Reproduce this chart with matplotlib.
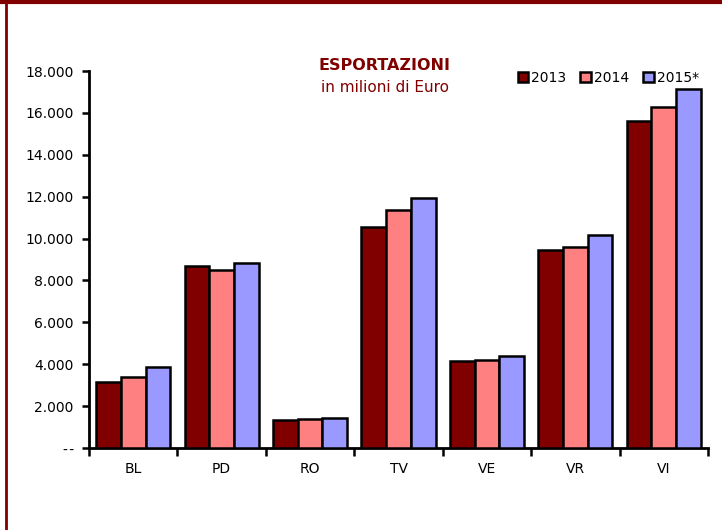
import numpy as np
import matplotlib
matplotlib.use("Agg")
import matplotlib.pyplot as plt
from matplotlib.lines import Line2D

province = ["BL", "PD", "RO", "TV", "VE", "VR", "VI"]
anni = ["2013", "2014", "2015*"]
v2013 = [3140, 8670, 1330, 10570, 4140, 9430, 15620]
v2014 = [3380, 8520, 1380, 11380, 4190, 9620, 16290]
v2015 = [3860, 8810, 1430, 11950, 4380, 10190, 17140]
colori = ["#800000", "#ff8080", "#9999ff"]
yticks = [0, 2000, 4000, 6000, 8000, 10000, 12000, 14000, 16000, 18000]

plt.rcParams['font.family'] = ['DejaVu Sans']

fig = plt.figure(figsize=(7.22, 5.30), dpi=100)
ax = fig.add_axes([89/722, 1 - 448/530, (708 - 89)/722, (448 - 71)/530])

x = np.arange(len(province))
w = 0.28
for i, serie in enumerate([v2013, v2014, v2015]):
    ax.bar(x + (i - 1) * w, serie, w, color=colori[i], edgecolor="black",
           linewidth=1.8, label=anni[i], zorder=3)

ax.set_xlim(-0.5, len(province) - 0.5)
ax.set_ylim(0, 18000)
ax.set_yticks(yticks)
ax.set_yticklabels(["-\u200a-"] + ["{:,}".format(t).replace(",", ".") for t in yticks[1:]],
                   fontsize=10)
ax.set_xticks(x)
ax.set_xticklabels(province, fontsize=10)
ax.set_xticks(np.arange(len(province) + 1) - 0.5, minor=True)
ax.tick_params(axis="x", which="major", length=0, pad=10)
ax.tick_params(axis="x", which="minor", length=6, width=1.8, direction="out")
ax.tick_params(axis="y", length=5, width=1.8, direction="out", pad=6)

for s in ["top", "right"]:
    ax.spines[s].set_visible(False)
for s in ["left", "bottom"]:
    ax.spines[s].set_linewidth(2)

fig.text(385/722, 1 - 66/530, "ESPORTAZIONI", color="#800000", fontsize=11.5,
         fontweight="bold", ha="center", va="center")
fig.text(385/722, 1 - 87/530, "in milioni di Euro", color="#800000", fontsize=11,
         ha="center", va="center")

ax.legend(loc="center right", bbox_to_anchor=(0.995, 0.981), ncol=3, frameon=False,
          fontsize=10, handlelength=0.75, handleheight=0.75, handletextpad=0.25,
          columnspacing=1.0, borderaxespad=0)

# cornice rossa
fig.add_artist(Line2D([0, 1], [1 - 1.5/530, 1 - 1.5/530], color="#800000", linewidth=3))
fig.add_artist(Line2D([6/722, 6/722], [0, 1], color="#800000", linewidth=2))

fig.savefig("out.png", dpi=100)
